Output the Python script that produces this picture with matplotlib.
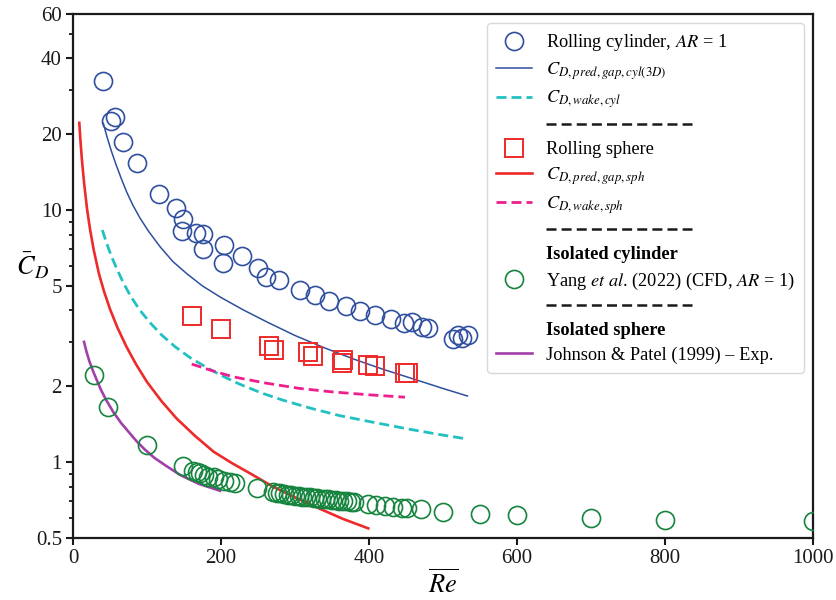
import numpy as np
import matplotlib
matplotlib.use("Agg")
import matplotlib.pyplot as plt
from matplotlib.lines import Line2D
from matplotlib.legend_handler import HandlerBase
from matplotlib.ticker import FixedLocator, FixedFormatter, NullLocator

plt.rcParams["font.family"] = ["Liberation Serif", "DejaVu Serif"]
plt.rcParams["mathtext.fontset"] = "stix"

# ---- Rolling cylinder, AR = 1 (measured) ----
cyl_re = [40.1, 50.9, 57.2, 67.2, 86.9, 116.2, 139.2, 148.2, 147.3, 166.2, 175.3,
          176.1, 203.6, 203.1, 228.4, 250.4, 260.8, 278.0, 306.8, 327.0, 346.4,
          368.9, 387.8, 408.1, 429.3, 447.3, 458.5, 471.2, 480.1, 513.9, 520.7,
          525.7, 533.8]
cyl_cd = [32.6, 22.6, 23.5, 18.7, 15.4, 11.55, 10.17, 9.22, 8.26, 8.13, 8.06,
          6.99, 7.25, 6.19, 6.57, 5.88, 5.41, 5.26, 4.82, 4.60, 4.36,
          4.16, 3.99, 3.84, 3.70, 3.57, 3.61, 3.44, 3.41, 3.07, 3.19,
          3.11, 3.19]

# gap-model prediction, cylinder (3D)
pred_cyl_re = [41, 46, 52, 58, 65, 72.5, 81, 90.5, 102, 117.6, 135, 153.6, 175,
               200, 230, 262, 300, 340, 380, 420, 464, 500, 533]
pred_cyl_cd = [22.1, 19.5, 17.1, 15.2, 13.4, 11.8, 10.45, 9.3, 8.25, 7.16, 6.25,
               5.6, 5.0, 4.5, 4.02, 3.6, 3.18, 2.84, 2.56, 2.33, 2.12, 1.96, 1.83]

# wake model, cylinder
wake_cyl_re = [39.6, 45, 52, 60, 68, 78, 90, 104, 120, 138, 158, 180, 200, 225,
               255, 284, 320, 360, 400, 455, 500, 533]
wake_cyl_cd = [8.34, 7.45, 6.55, 5.78, 5.15, 4.55, 4.02, 3.58, 3.19, 2.87, 2.6,
               2.38, 2.21, 2.04, 1.88, 1.76, 1.64, 1.53, 1.45, 1.35, 1.28, 1.235]

# ---- Rolling sphere (measured) ----
sph_re = [160.4, 200.0, 265.3, 272.0, 317.2, 323.9, 365.3, 363.1, 398.2, 408.1, 448.6, 452.7]
sph_cd = [3.80, 3.37, 2.89, 2.79, 2.73, 2.64, 2.54, 2.47, 2.44, 2.41, 2.26, 2.26]

# gap-model prediction, sphere
pred_sph_re = [8.5, 10, 12, 15, 19, 23, 28, 35, 42, 50, 60, 72, 85, 100, 120, 140,
               165, 190, 215, 240, 270, 300, 330, 365, 399]
pred_sph_cd = [22.2, 19.0, 15.9, 12.8, 10.1, 8.4, 6.95, 5.6, 4.75, 4.05, 3.42, 2.88,
               2.45, 2.08, 1.74, 1.49, 1.27, 1.10, 0.99, 0.90, 0.80, 0.725, 0.66,
               0.595, 0.546]

# wake model, sphere
wake_sph_re = [160.4, 185, 216.6, 260, 306.8, 350, 400, 448.6]
wake_sph_cd = [2.45, 2.32, 2.18, 2.06, 1.96, 1.90, 1.85, 1.81]

# ---- Isolated cylinder: Yang et al. (2022), CFD, AR = 1 ----
iso_cyl_re = [28.8, 47.7, 99.6, 148, 162, 167, 172, 177, 183, 190, 196, 204, 212, 219,
              248, 270, 275, 280, 285, 290, 295, 300, 305, 310, 315, 320, 325, 330,
              335, 340, 345, 350, 355, 360, 365, 370, 375, 380,
              399, 410, 422, 433, 444, 451, 470, 500, 550, 600, 700, 800, 1000]
iso_cyl_cd = [2.22, 1.66, 1.17, 0.965, 0.925, 0.913, 0.903, 0.889, 0.875, 0.870, 0.854,
              0.843, 0.834, 0.824,
              0.787, 0.763, 0.757, 0.752, 0.748, 0.744, 0.740, 0.736, 0.733, 0.730,
              0.727, 0.724, 0.721, 0.718, 0.716, 0.713, 0.711, 0.708, 0.706, 0.704,
              0.701, 0.699, 0.697, 0.695,
              0.682, 0.676, 0.670, 0.662, 0.656, 0.656, 0.650, 0.636, 0.621, 0.617,
              0.598, 0.589, 0.585]

# ---- Isolated sphere: Johnson & Patel (1999), experiment ----
iso_sph_re = [14.9, 18, 22, 27, 32, 38, 45, 54.5, 65, 75, 86, 97.3, 110, 125,
              144.6, 170, 198.6]
iso_sph_cd = [3.0, 2.76, 2.52, 2.3, 2.12, 1.93, 1.76, 1.58, 1.43, 1.32, 1.21, 1.12,
              1.04, 0.97, 0.89, 0.82, 0.77]

# axis ticks
x_ticks = [0, 200, 400, 600, 800, 1000]
y_ticks = [0.5, 1, 2, 5, 10, 20, 40, 60]
y_tick_labels = ["0.5", "1", "2", "5", "10", "20", "40", "60"]
y_minor = [0.6, 0.7, 0.8, 0.9, 3, 4, 6, 7, 8, 9, 30, 50]

BLUE = "#2f4f9f"
CYAN = "#22c0c0"
RED = "#ee2a2a"
MAGENTA = "#ee1e8e"
PURPLE = "#a040a8"
GREEN = "#15843e"

fig = plt.figure(figsize=(8.36, 6.0), dpi=100)
ax = fig.add_axes([73 / 836, 1 - 538 / 600, 740 / 836, 524 / 600])

ms = 13
h_cyl, = ax.plot(cyl_re, cyl_cd, "o", ms=ms, mfc="none", mec=BLUE, mew=1.2,
                 label=r"Rolling cylinder, $AR$ = 1", zorder=4)
h_pcyl, = ax.plot(pred_cyl_re, pred_cyl_cd, "-", color=BLUE, lw=1.1,
                  label=r"$C_{D,pred,gap,cyl(3D)}$", zorder=3)
h_wcyl, = ax.plot(wake_cyl_re, wake_cyl_cd, color=CYAN, lw=2.0,
                  linestyle=(0, (3.6, 1.8)), label=r"$C_{D,wake,cyl}$", zorder=3)
h_sph, = ax.plot(sph_re, sph_cd, "s", ms=ms, mfc="none", mec=RED, mew=1.4,
                 label="Rolling sphere", zorder=4)
h_psph, = ax.plot(pred_sph_re, pred_sph_cd, "-", color=RED, lw=1.9,
                  label=r"$C_{D,pred,gap,sph}$", zorder=3)
h_wsph, = ax.plot(wake_sph_re, wake_sph_cd, color=MAGENTA, lw=2.0,
                  linestyle=(0, (3.6, 1.8)), label=r"$C_{D,wake,sph}$", zorder=3)
h_icyl, = ax.plot(iso_cyl_re, iso_cyl_cd, "o", ms=ms, mfc="none", mec=GREEN, mew=1.2,
                  label=r"Yang $et\ al$. (2022) (CFD, $AR$ = 1)", zorder=4)
h_isph, = ax.plot(iso_sph_re, iso_sph_cd, "-", color=PURPLE, lw=1.9,
                  label="Johnson & Patel (1999) – Exp.", zorder=3)

ax.set_xlim(0, 1000)
ax.set_yscale("log")
ax.set_ylim(0.5, 60)
ax.xaxis.set_major_locator(FixedLocator(x_ticks))
ax.xaxis.set_minor_locator(NullLocator())
ax.yaxis.set_major_locator(FixedLocator(y_ticks))
ax.yaxis.set_major_formatter(FixedFormatter(y_tick_labels))
ax.yaxis.set_minor_locator(FixedLocator(y_minor))
ax.yaxis.set_minor_formatter(FixedFormatter([""] * len(y_minor)))

for s in ax.spines.values():
    s.set_linewidth(1.6)
    s.set_color("#1a1a1a")
ax.tick_params(which="major", direction="out", length=5, width=1.5,
               labelsize=15, colors="#1a1a1a", pad=3)
ax.tick_params(which="minor", direction="out", length=3, width=1.3, colors="#1a1a1a")

ax.set_xlabel(r"$\overline{Re}$", fontsize=19)
ax.xaxis.set_label_coords(0.5, -0.06)
ax.set_ylabel(r"$\bar{C}_D$", fontsize=19, rotation=0, va="center", ha="center")
ax.yaxis.set_label_coords(-0.055, 0.52)


class Spacer:
    pass


class SpacerHandler(HandlerBase):
    def create_artists(self, legend, orig_handle, xdescent, ydescent,
                       width, height, fontsize, trans):
        x0 = width - xdescent + legend.handletextpad * fontsize
        y = height / 2 - ydescent
        line = Line2D([x0, x0 + 105], [y, y], color="#1a1a1a", lw=1.8,
                      linestyle=(0, (4.0, 2.05)))
        line.set_transform(trans)
        return [line]


def heading(text):
    return Line2D([], [], linestyle="none", marker=None, label=text)


sp1, sp2, sp3 = Spacer(), Spacer(), Spacer()
hd1 = heading("Isolated cylinder")
hd2 = heading("Isolated sphere")

handles = [h_cyl, h_pcyl, h_wcyl, sp1, h_sph, h_psph, h_wsph, sp2,
           hd1, h_icyl, sp3, hd2, h_isph]
labels = [h.get_label() if not isinstance(h, Spacer) else " " for h in handles]

leg = ax.legend(handles, labels, loc="upper right",
                handler_map={Spacer: SpacerHandler()},
                prop={"family": "Liberation Serif", "size": 13.2},
                handlelength=1.95, handletextpad=0.75, labelspacing=0.38,
                borderpad=0.5, frameon=True, fancybox=True)
leg.get_frame().set_edgecolor("#cfcfcf")
leg.get_frame().set_linewidth(1.0)
for t in leg.get_texts():
    if t.get_text() in ("Isolated cylinder", "Isolated sphere"):
        t.set_fontweight("bold")

fig.savefig("out.png", dpi=100)
